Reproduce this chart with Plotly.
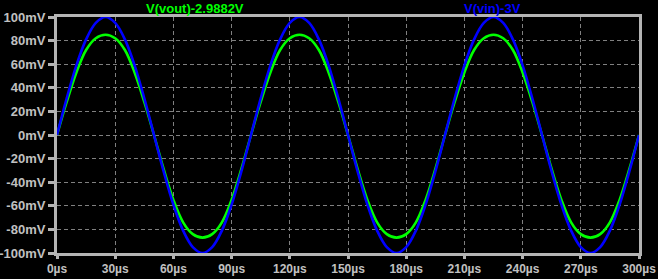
import plotly.graph_objects as go

time_us = list(range(0, 301, 5))
vin_mV = [0, 31, 59, 81, 95, 100, 95, 81, 59, 31,
          0, -31, -59, -81, -95, -100, -95, -81, -59, -31,
          0, 31, 59, 81, 95, 100, 95, 81, 59, 31,
          0, -31, -59, -81, -95, -100, -95, -81, -59, -31,
          0, 31, 59, 81, 95, 100, 95, 81, 59, 31,
          0, -31, -59, -81, -95, -100, -95, -81, -59, -31,
          0]
vout_mV = [0, 28, 53, 72, 82, 85, 82, 72, 53, 28,
           0, -29, -55, -74, -84, -87, -84, -74, -55, -29,
           0, 28, 53, 72, 82, 85, 82, 72, 53, 28,
           0, -29, -55, -74, -84, -87, -84, -74, -55, -29,
           0, 28, 53, 72, 82, 85, 82, 72, 53, 28,
           0, -29, -55, -74, -84, -87, -84, -74, -55, -29,
           0]
x_ticks = [0, 30, 60, 90, 120, 150, 180, 210, 240, 270, 300]
x_tick_labels = ["0µs", "30µs", "60µs", "90µs", "120µs", "150µs", "180µs", "210µs", "240µs", "270µs", "300µs"]
y_ticks = [-100, -80, -60, -40, -20, 0, 20, 40, 60, 80, 100]
y_tick_labels = ["-100mV", "-80mV", "-60mV", "-40mV", "-20mV", "0mV", "20mV", "40mV", "60mV", "80mV", "100mV"]
series_names = ["V(vout)-2.9882V", "V(vin)-3V"]

GREEN = "#00ff00"
BLUE = "#0000ff"
FRAME = "#b4b4b4"
LABEL = "#c0c0c0"
GRID = "#808080"
FONT = "Liberation Sans"

fig = go.Figure()
fig.add_trace(go.Scatter(x=time_us, y=vout_mV, mode="lines", line=dict(color=GREEN, width=2.6, shape="spline"), name=series_names[0]))
fig.add_trace(go.Scatter(x=time_us, y=vin_mV, mode="lines", line=dict(color=BLUE, width=2.6, shape="spline"), name=series_names[1]))

fig.update_layout(
    width=658, height=279,
    margin=dict(l=57, r=19, t=17, b=26, autoexpand=False),
    paper_bgcolor="black", plot_bgcolor="black",
    showlegend=False,
    font=dict(family=FONT, size=13, color=LABEL),
)
axis_common = dict(
    showline=True, linecolor=FRAME, linewidth=3, mirror=True,
    ticks="outside", tickwidth=3, tickcolor=FRAME,
    showgrid=True, gridcolor=GRID, gridwidth=1, griddash="4px,3px",
    zeroline=False, automargin=False, ticklabelstandoff=0,
)
fig.update_xaxes(range=[0, 300], tickvals=x_ticks, ticktext=x_tick_labels, ticklen=3,
                 tickfont=dict(family=FONT, size=12, color=LABEL, weight="bold"), **axis_common)
fig.update_yaxes(range=[-100, 100], tickvals=y_ticks, ticktext=y_tick_labels, ticklen=6,
                 tickfont=dict(family=FONT, size=13, color=LABEL, weight="bold"), **axis_common)
fig.add_annotation(x=0.237, y=1, xref="paper", yref="paper", yanchor="bottom", xanchor="center",
                   text=series_names[0], showarrow=False, yshift=-1,
                   font=dict(family=FONT, size=13, color=GREEN, weight="bold"))
fig.add_annotation(x=0.749, y=1, xref="paper", yref="paper", yanchor="bottom", xanchor="center",
                   text=series_names[1], showarrow=False, yshift=-1,
                   font=dict(family=FONT, size=13, color=BLUE, weight="bold"))

fig.write_html("out.html")
